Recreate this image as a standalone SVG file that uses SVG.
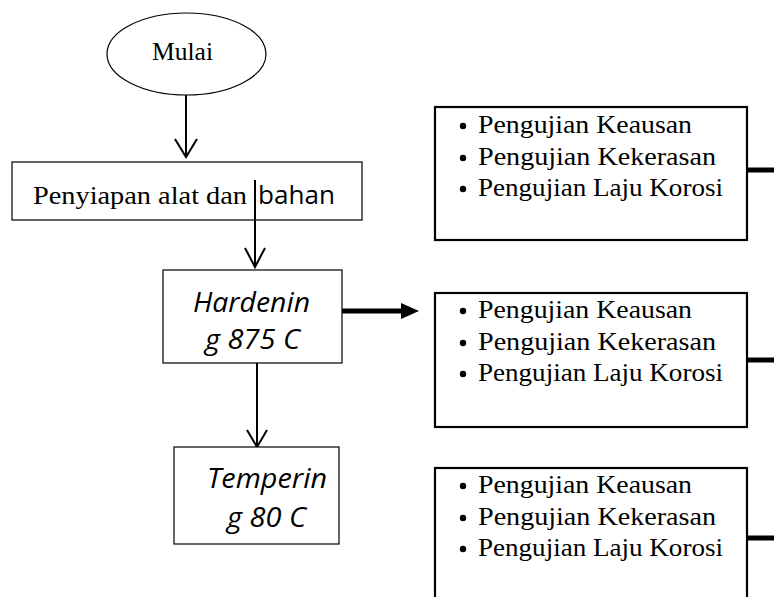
<svg xmlns="http://www.w3.org/2000/svg" width="774" height="597" viewBox="0 0 774 597">
<style>
.bg{fill:#fff}
.box{fill:#fff;stroke:#000;stroke-width:1.2}
.tbox{fill:#fff;stroke:#000;stroke-width:2.2}
.serif{font-family:"Liberation Serif","Times New Roman",serif;font-size:26px;fill:#000}
.sans{font-family:"Open Sans","Liberation Sans",sans-serif;font-size:26px;fill:#000}
.ital{font-family:"Open Sans","Liberation Sans",sans-serif;font-style:italic;font-size:27px;fill:#000}
.ln{stroke:#000;stroke-width:2;fill:none}
.thick{stroke:#000;stroke-width:5;fill:none}
.bul{fill:#000}
</style>
<rect class="bg" x="0" y="0" width="774" height="597"/>
<g id="connectors">
  <line class="ln" x1="186" y1="95" x2="186" y2="156"/>
  <polyline class="ln" points="175,139 186,157 197,139"/>
  <line class="ln" x1="255" y1="180" x2="255" y2="266"/>
  <polyline class="ln" points="245,248 255,267 265,248"/>
  <line class="ln" x1="257" y1="363" x2="257" y2="446"/>
  <polyline class="ln" points="247,430 257,447 267,430"/>
  <line class="thick" x1="340" y1="311" x2="404" y2="311"/>
  <polygon points="401,303 419,311 401,319" fill="#000"/>
  <line class="thick" x1="747" y1="170" x2="774" y2="170"/>
  <line class="thick" x1="747" y1="360" x2="774" y2="360"/>
  <line class="thick" x1="747" y1="538" x2="774" y2="538"/>
</g>
<g id="mulai">
  <ellipse class="box" cx="186.5" cy="54" rx="79.5" ry="41" stroke-width="1.6"/>
  <text class="serif" x="152" y="60" font-size="25" textLength="61" lengthAdjust="spacingAndGlyphs">Mulai</text>
</g>
<g id="penyiapan">
  <rect class="box" x="12" y="162" width="350" height="58"/>
  <text class="serif" x="33" y="204" textLength="214" lengthAdjust="spacingAndGlyphs">Penyiapan alat dan</text>
  <text class="sans" x="258" y="204" textLength="77" lengthAdjust="spacingAndGlyphs">bahan</text>
  <line class="ln" x1="255" y1="180" x2="255" y2="220"/>
</g>
<g id="hardening">
  <rect class="box" x="163" y="270" width="179" height="93"/>
  <text class="ital" x="193" y="312" textLength="117" lengthAdjust="spacingAndGlyphs">Hardenin</text>
  <text class="ital" x="205" y="349" textLength="95" lengthAdjust="spacingAndGlyphs">g 875 C</text>
</g>
<g id="tempering">
  <rect class="box" x="174" y="447" width="165" height="97"/>
  <text class="ital" x="207" y="488" textLength="120" lengthAdjust="spacingAndGlyphs">Temperin</text>
  <text class="ital" x="227" y="527" textLength="79" lengthAdjust="spacingAndGlyphs">g 80 C</text>
</g>
<g id="uji1">
  <rect class="tbox" x="435" y="107" width="312" height="133"/>
  <circle class="bul" cx="463" cy="126" r="3.2"/>
  <circle class="bul" cx="463" cy="158" r="3.2"/>
  <circle class="bul" cx="463" cy="189" r="3.2"/>
  <text class="serif" x="478" y="133" textLength="214" lengthAdjust="spacingAndGlyphs">Pengujian Keausan</text>
  <text class="serif" x="478" y="165" textLength="238" lengthAdjust="spacingAndGlyphs">Pengujian Kekerasan</text>
  <text class="serif" x="478" y="196" textLength="245" lengthAdjust="spacingAndGlyphs">Pengujian Laju Korosi</text>
</g>
<g id="uji2">
  <rect class="tbox" x="435" y="293" width="312" height="134"/>
  <circle class="bul" cx="463" cy="311" r="3.2"/>
  <circle class="bul" cx="463" cy="343" r="3.2"/>
  <circle class="bul" cx="463" cy="374" r="3.2"/>
  <text class="serif" x="478" y="318" textLength="214" lengthAdjust="spacingAndGlyphs">Pengujian Keausan</text>
  <text class="serif" x="478" y="350" textLength="238" lengthAdjust="spacingAndGlyphs">Pengujian Kekerasan</text>
  <text class="serif" x="478" y="381" textLength="245" lengthAdjust="spacingAndGlyphs">Pengujian Laju Korosi</text>
</g>
<g id="uji3">
  <rect class="tbox" x="435" y="468" width="312" height="140"/>
  <circle class="bul" cx="463" cy="486" r="3.2"/>
  <circle class="bul" cx="463" cy="518" r="3.2"/>
  <circle class="bul" cx="463" cy="549" r="3.2"/>
  <text class="serif" x="478" y="493" textLength="214" lengthAdjust="spacingAndGlyphs">Pengujian Keausan</text>
  <text class="serif" x="478" y="525" textLength="238" lengthAdjust="spacingAndGlyphs">Pengujian Kekerasan</text>
  <text class="serif" x="478" y="556" textLength="245" lengthAdjust="spacingAndGlyphs">Pengujian Laju Korosi</text>
</g>
</svg>
